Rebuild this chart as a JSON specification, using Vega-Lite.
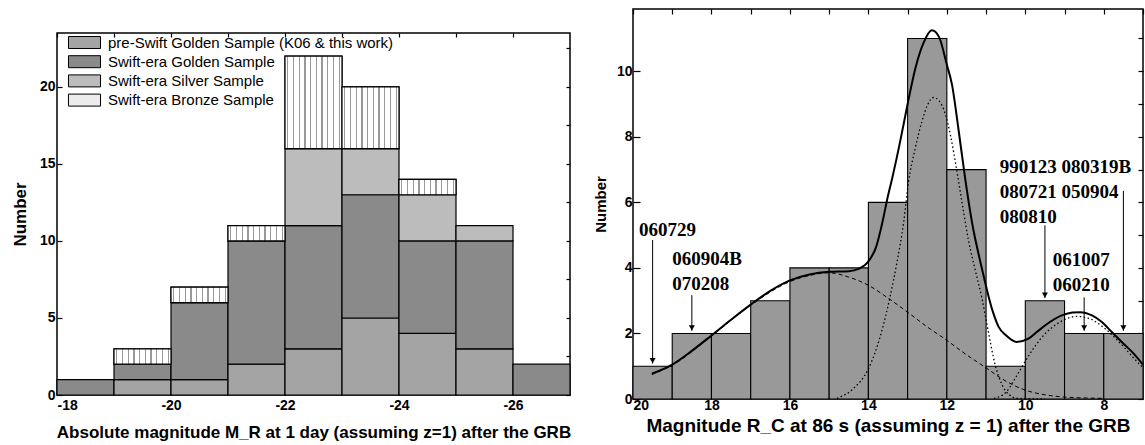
{
  "$schema": "https://vega.github.io/schema/vega-lite/v6.json",
  "padding": {"left": 10, "top": 7, "right": 0, "bottom": 0},
  "spacing": 20,
  "config": {
    "font": "Liberation Sans",
    "view": {"stroke": "black", "strokeWidth": 1.5},
    "axis": {"labelFont": "Liberation Sans", "labelFontWeight": "bold", "labelFontSize": 14, "labelColor": "black", "titleFont": "Liberation Sans", "titleFontWeight": "bold", "titleColor": "black", "domain": false, "grid": false, "tickColor": "black", "tickWidth": 1.2}
  },
  "datasets": {
    "abs": [
      {"lo": -18, "hi": -19, "cat": "Swift-era Golden Sample", "k": 1, "n": 1},
      {"lo": -19, "hi": -20, "cat": "pre-Swift Golden Sample (K06 & this work)", "k": 0, "n": 1},
      {"lo": -19, "hi": -20, "cat": "Swift-era Golden Sample", "k": 1, "n": 1},
      {"lo": -19, "hi": -20, "cat": "Swift-era Bronze Sample", "k": 3, "n": 1},
      {"lo": -20, "hi": -21, "cat": "pre-Swift Golden Sample (K06 & this work)", "k": 0, "n": 1},
      {"lo": -20, "hi": -21, "cat": "Swift-era Golden Sample", "k": 1, "n": 5},
      {"lo": -20, "hi": -21, "cat": "Swift-era Bronze Sample", "k": 3, "n": 1},
      {"lo": -21, "hi": -22, "cat": "pre-Swift Golden Sample (K06 & this work)", "k": 0, "n": 2},
      {"lo": -21, "hi": -22, "cat": "Swift-era Golden Sample", "k": 1, "n": 8},
      {"lo": -21, "hi": -22, "cat": "Swift-era Bronze Sample", "k": 3, "n": 1},
      {"lo": -22, "hi": -23, "cat": "pre-Swift Golden Sample (K06 & this work)", "k": 0, "n": 3},
      {"lo": -22, "hi": -23, "cat": "Swift-era Golden Sample", "k": 1, "n": 8},
      {"lo": -22, "hi": -23, "cat": "Swift-era Silver Sample", "k": 2, "n": 5},
      {"lo": -22, "hi": -23, "cat": "Swift-era Bronze Sample", "k": 3, "n": 6},
      {"lo": -23, "hi": -24, "cat": "pre-Swift Golden Sample (K06 & this work)", "k": 0, "n": 5},
      {"lo": -23, "hi": -24, "cat": "Swift-era Golden Sample", "k": 1, "n": 8},
      {"lo": -23, "hi": -24, "cat": "Swift-era Silver Sample", "k": 2, "n": 3},
      {"lo": -23, "hi": -24, "cat": "Swift-era Bronze Sample", "k": 3, "n": 4},
      {"lo": -24, "hi": -25, "cat": "pre-Swift Golden Sample (K06 & this work)", "k": 0, "n": 4},
      {"lo": -24, "hi": -25, "cat": "Swift-era Golden Sample", "k": 1, "n": 6},
      {"lo": -24, "hi": -25, "cat": "Swift-era Silver Sample", "k": 2, "n": 3},
      {"lo": -24, "hi": -25, "cat": "Swift-era Bronze Sample", "k": 3, "n": 1},
      {"lo": -25, "hi": -26, "cat": "pre-Swift Golden Sample (K06 & this work)", "k": 0, "n": 3},
      {"lo": -25, "hi": -26, "cat": "Swift-era Golden Sample", "k": 1, "n": 7},
      {"lo": -25, "hi": -26, "cat": "Swift-era Silver Sample", "k": 2, "n": 1},
      {"lo": -26, "hi": -27, "cat": "Swift-era Golden Sample", "k": 1, "n": 2}
    ],
    "rc": [
      {"lo": 20, "hi": 19, "n": 1}, {"lo": 19, "hi": 18, "n": 2}, {"lo": 18, "hi": 17, "n": 2},
      {"lo": 17, "hi": 16, "n": 3}, {"lo": 16, "hi": 15, "n": 4}, {"lo": 15, "hi": 14, "n": 4},
      {"lo": 14, "hi": 13, "n": 6}, {"lo": 13, "hi": 12, "n": 11}, {"lo": 12, "hi": 11, "n": 7},
      {"lo": 11, "hi": 10, "n": 1}, {"lo": 10, "hi": 9, "n": 3}, {"lo": 9, "hi": 8, "n": 2},
      {"lo": 8, "hi": 7, "n": 2}
    ],
    "total": [
      {"m": 19.52, "v": 0.77}, {"m": 19.0, "v": 1.05}, {"m": 18.5, "v": 1.47}, {"m": 18.0, "v": 1.94},
      {"m": 17.5, "v": 2.42}, {"m": 17.0, "v": 2.88}, {"m": 16.5, "v": 3.3}, {"m": 16.0, "v": 3.62},
      {"m": 15.5, "v": 3.8}, {"m": 15.0, "v": 3.88}, {"m": 14.5, "v": 3.9}, {"m": 14.25, "v": 3.97},
      {"m": 14.0, "v": 4.2}, {"m": 13.8, "v": 4.65}, {"m": 13.66, "v": 5.3}, {"m": 13.5, "v": 6.2},
      {"m": 13.4, "v": 6.7}, {"m": 13.2, "v": 7.8}, {"m": 13.0, "v": 9.0}, {"m": 12.8, "v": 10.1},
      {"m": 12.6, "v": 10.85}, {"m": 12.38, "v": 11.25}, {"m": 12.2, "v": 11.05}, {"m": 12.0, "v": 10.2},
      {"m": 11.87, "v": 9.6}, {"m": 11.7, "v": 8.2}, {"m": 11.53, "v": 6.7}, {"m": 11.36, "v": 5.4},
      {"m": 11.11, "v": 4.0}, {"m": 10.85, "v": 2.75}, {"m": 10.68, "v": 2.2}, {"m": 10.5, "v": 1.95},
      {"m": 10.22, "v": 1.74}, {"m": 9.92, "v": 1.84}, {"m": 9.7, "v": 2.05}, {"m": 9.49, "v": 2.25},
      {"m": 9.07, "v": 2.55}, {"m": 8.8, "v": 2.64}, {"m": 8.6, "v": 2.65}, {"m": 8.3, "v": 2.55},
      {"m": 8.05, "v": 2.35}, {"m": 7.8, "v": 2.05}, {"m": 7.54, "v": 1.74}, {"m": 7.25, "v": 1.4},
      {"m": 7.0, "v": 1.05}
    ],
    "broad": [
      {"m": 19.52, "v": 0.75}, {"m": 19.0, "v": 1.03}, {"m": 18.0, "v": 1.92}, {"m": 17.0, "v": 2.86},
      {"m": 16.0, "v": 3.58}, {"m": 15.5, "v": 3.77}, {"m": 15.0, "v": 3.85}, {"m": 14.5, "v": 3.72},
      {"m": 14.0, "v": 3.47}, {"m": 13.5, "v": 3.08}, {"m": 13.0, "v": 2.65}, {"m": 12.5, "v": 2.2},
      {"m": 12.0, "v": 1.79}, {"m": 11.5, "v": 1.35}, {"m": 11.0, "v": 0.95}, {"m": 10.6, "v": 0.62},
      {"m": 10.0, "v": 0.27}, {"m": 9.5, "v": 0.13}, {"m": 9.0, "v": 0.06}, {"m": 8.0, "v": 0.02}
    ],
    "narrow": [
      {"m": 14.8, "v": 0.02}, {"m": 14.4, "v": 0.3}, {"m": 14.0, "v": 0.92}, {"m": 13.7, "v": 1.9},
      {"m": 13.44, "v": 3.16}, {"m": 13.27, "v": 4.18}, {"m": 13.1, "v": 5.4}, {"m": 12.98, "v": 6.6},
      {"m": 12.81, "v": 7.63}, {"m": 12.64, "v": 8.45}, {"m": 12.5, "v": 8.95}, {"m": 12.34, "v": 9.2},
      {"m": 12.2, "v": 9.1}, {"m": 12.04, "v": 8.7}, {"m": 11.9, "v": 8.0}, {"m": 11.75, "v": 7.0},
      {"m": 11.6, "v": 5.9}, {"m": 11.45, "v": 4.85}, {"m": 11.28, "v": 3.95}, {"m": 11.11, "v": 3.1},
      {"m": 10.95, "v": 2.1}, {"m": 10.77, "v": 1.05}, {"m": 10.6, "v": 0.45}, {"m": 10.4, "v": 0.12},
      {"m": 10.2, "v": 0.02}, {"m": 9.5, "v": 0.0}
    ],
    "bright": [
      {"m": 10.8, "v": 0.02}, {"m": 10.5, "v": 0.2}, {"m": 10.2, "v": 0.75}, {"m": 9.9, "v": 1.35},
      {"m": 9.6, "v": 1.85}, {"m": 9.3, "v": 2.2}, {"m": 9.0, "v": 2.42}, {"m": 8.7, "v": 2.52},
      {"m": 8.4, "v": 2.47}, {"m": 8.1, "v": 2.27}, {"m": 7.8, "v": 1.97}, {"m": 7.5, "v": 1.6},
      {"m": 7.2, "v": 1.2}, {"m": 7.0, "v": 0.95}
    ],
    "arrows": [
      {"m": 19.5, "top": 4.85, "tip": 1.08},
      {"m": 18.5, "top": 3.17, "tip": 2.08},
      {"m": 9.5, "top": 5.3, "tip": 3.08},
      {"m": 8.5, "top": 3.1, "tip": 2.08},
      {"m": 7.5, "top": 6.35, "tip": 2.08}
    ],
    "notes": [
      {"m": 19.85, "v": 5.15, "t": "060729"},
      {"m": 19.0, "v": 4.28, "t": "060904B"},
      {"m": 19.0, "v": 3.52, "t": "070208"},
      {"m": 10.65, "v": 7.07, "t": "990123 080319B"},
      {"m": 10.65, "v": 6.31, "t": "080721 050904"},
      {"m": 10.65, "v": 5.55, "t": "080810"},
      {"m": 9.3, "v": 4.23, "t": "061007"},
      {"m": 9.3, "v": 3.47, "t": "060210"}
    ]
  },
  "hconcat": [
    {
      "spacing": 0,
      "vconcat": [
        {
          "width": 513,
          "height": 22,
          "view": {"stroke": null},
          "data": {"values": [{"t": ""}]},
          "mark": {"type": "text", "text": ""},
          "encoding": {}
        },
        {
          "width": 513,
          "height": 362,
          "data": {"name": "abs"},
          "transform": [{"stack": "n", "groupby": ["lo"], "sort": [{"field": "k"}], "as": ["y0", "y1"]}],
          "layer": [
            {
              "mark": {"type": "bar", "stroke": "black", "strokeWidth": 1.2, "opacity": 1},
              "encoding": {
                "x": {"field": "lo", "type": "quantitative", "scale": {"domain": [-18, -27], "nice": false, "zero": false},
                      "axis": {"orient": "bottom", "values": [-18, -20, -22, -24, -26], "labelExpr": "'' + datum.value", "tickSize": -5, "labelPadding": 8, "title": "Absolute magnitude M_R at 1 day (assuming z=1) after the GRB", "titleFontSize": 17, "titlePadding": 12}},
                "x2": {"field": "hi"},
                "y": {"field": "y1", "type": "quantitative", "scale": {"domain": [0, 23.5], "nice": false},
                      "axis": {"orient": "left", "values": [0, 5, 10, 15, 20], "tickSize": -5, "labelPadding": 7, "title": "Number", "titleFontSize": 17, "titlePadding": 10}},
                "y2": {"field": "y0"},
                "fill": {"field": "cat", "type": "nominal",
                         "scale": {"domain": ["pre-Swift Golden Sample (K06 & this work)", "Swift-era Golden Sample", "Swift-era Silver Sample", "Swift-era Bronze Sample"],
                                   "range": ["#a4a4a4", "#8a8a8a", "#bcbcbc", "#ececec"]},
                         "legend": {"orient": "none", "legendX": 20, "legendY": 26, "title": null, "padding": 0,
                                    "symbolType": "M-2.67,-1H2.67V1H-2.67Z", "symbolSize": 144, "symbolStrokeColor": "black", "symbolStrokeWidth": 1, "symbolOpacity": 1,
                                    "labelFont": "Liberation Sans", "labelFontSize": 15, "labelColor": "black", "labelOffset": 16, "rowPadding": 2.2, "labelLimit": 400}}
              }
            },
            {
              "transform": [{"filter": "datum.k == 3"}],
              "mark": {"type": "bar", "stroke": "black", "strokeWidth": 1.2,
                       "fill": {"gradient": "linear", "x1": 0, "y1": 0, "x2": 1, "y2": 0, "stops": [
                         {"offset": 0, "color": "#ffffff"},
                         {"offset": 0.04, "color": "#ffffff"}, {"offset": 0.04, "color": "#999999"}, {"offset": 0.06, "color": "#999999"}, {"offset": 0.06, "color": "#ffffff"},
                         {"offset": 0.14, "color": "#ffffff"}, {"offset": 0.14, "color": "#999999"}, {"offset": 0.16, "color": "#999999"}, {"offset": 0.16, "color": "#ffffff"},
                         {"offset": 0.24, "color": "#ffffff"}, {"offset": 0.24, "color": "#999999"}, {"offset": 0.26, "color": "#999999"}, {"offset": 0.26, "color": "#ffffff"},
                         {"offset": 0.34, "color": "#ffffff"}, {"offset": 0.34, "color": "#999999"}, {"offset": 0.36, "color": "#999999"}, {"offset": 0.36, "color": "#ffffff"},
                         {"offset": 0.44, "color": "#ffffff"}, {"offset": 0.44, "color": "#999999"}, {"offset": 0.46, "color": "#999999"}, {"offset": 0.46, "color": "#ffffff"},
                         {"offset": 0.54, "color": "#ffffff"}, {"offset": 0.54, "color": "#999999"}, {"offset": 0.56, "color": "#999999"}, {"offset": 0.56, "color": "#ffffff"},
                         {"offset": 0.64, "color": "#ffffff"}, {"offset": 0.64, "color": "#999999"}, {"offset": 0.66, "color": "#999999"}, {"offset": 0.66, "color": "#ffffff"},
                         {"offset": 0.74, "color": "#ffffff"}, {"offset": 0.74, "color": "#999999"}, {"offset": 0.76, "color": "#999999"}, {"offset": 0.76, "color": "#ffffff"},
                         {"offset": 0.84, "color": "#ffffff"}, {"offset": 0.84, "color": "#999999"}, {"offset": 0.86, "color": "#999999"}, {"offset": 0.86, "color": "#ffffff"},
                         {"offset": 0.94, "color": "#ffffff"}, {"offset": 0.94, "color": "#999999"}, {"offset": 0.96, "color": "#999999"}, {"offset": 0.96, "color": "#ffffff"},
                         {"offset": 1, "color": "#ffffff"}
                       ]}},
              "encoding": {
                "x": {"field": "lo", "type": "quantitative", "scale": {"domain": [-18, -27], "nice": false, "zero": false},
                      "axis": {"orient": "top", "values": [-18, -19, -20, -21, -22, -23, -24, -25, -26], "labels": false, "tickSize": -4, "title": null}},
                "x2": {"field": "hi"},
                "y": {"field": "y1", "type": "quantitative", "scale": {"domain": [0, 23.5], "nice": false},
                      "axis": {"orient": "right", "values": [0, 2.5, 5, 7.5, 10, 12.5, 15, 17.5, 20, 22.5], "labels": false, "tickSize": -4, "title": null}},
                "y2": {"field": "y0"}
              }
            }
          ],
          "resolve": {"axis": {"x": "independent", "y": "independent"}}
        }
      ]
    },
    {
      "width": 510,
      "height": 390,
      "layer": [
        {
          "data": {"name": "rc"},
          "mark": {"type": "bar", "fill": "#999999", "stroke": "black", "strokeWidth": 1.1},
          "encoding": {
            "x": {"field": "lo", "type": "quantitative", "scale": {"domain": [20, 7], "nice": false, "zero": false},
                  "axis": {"orient": "bottom", "values": [20, 18, 16, 14, 12, 10, 8], "tickSize": -6, "labelPadding": 5, "title": "Magnitude R_C at 86 s (assuming z = 1) after the GRB", "titleFontSize": 19, "titlePadding": 4}},
            "x2": {"field": "hi"},
            "y": {"field": "n", "type": "quantitative", "scale": {"domain": [0, 11.9], "nice": false},
                  "axis": {"orient": "left", "values": [0, 2, 4, 6, 8, 10], "tickSize": -7, "labelPadding": 8, "title": "Number", "titleFontSize": 15, "titlePadding": 8}},
            "y2": {"datum": 0}
          }
        },
        {
          "data": {"name": "total"},
          "mark": {"type": "line", "color": "black", "strokeWidth": 2, "interpolate": "monotone"},
          "encoding": {
            "x": {"field": "m", "type": "quantitative", "scale": {"domain": [20, 7], "nice": false, "zero": false},
                  "axis": {"orient": "top", "values": [20, 19, 18, 17, 16, 15, 14, 13, 12, 11, 10, 9, 8, 7], "labels": false, "tickSize": -5, "title": null}},
            "y": {"field": "v", "type": "quantitative", "scale": {"domain": [0, 11.9], "nice": false},
                  "axis": {"orient": "right", "values": [0, 1, 2, 3, 4, 5, 6, 7, 8, 9, 10, 11], "labels": false, "tickSize": -5, "title": null}},
            "order": {"field": "m", "sort": "descending"}
          }
        },
        {
          "data": {"name": "broad"},
          "mark": {"type": "line", "color": "black", "strokeWidth": 1, "strokeDash": [4, 3], "interpolate": "monotone"},
          "encoding": {
            "x": {"field": "m", "type": "quantitative", "scale": {"domain": [20, 7], "nice": false, "zero": false}, "axis": null},
            "y": {"field": "v", "type": "quantitative", "scale": {"domain": [0, 11.9], "nice": false}, "axis": null},
            "order": {"field": "m", "sort": "descending"}
          }
        },
        {
          "data": {"name": "narrow"},
          "mark": {"type": "line", "color": "black", "strokeWidth": 1.3, "strokeDash": [1.5, 2.5], "interpolate": "monotone"},
          "encoding": {
            "x": {"field": "m", "type": "quantitative", "scale": {"domain": [20, 7], "nice": false, "zero": false}, "axis": null},
            "y": {"field": "v", "type": "quantitative", "scale": {"domain": [0, 11.9], "nice": false}, "axis": null},
            "order": {"field": "m", "sort": "descending"}
          }
        },
        {
          "data": {"name": "bright"},
          "mark": {"type": "line", "color": "black", "strokeWidth": 1.3, "strokeDash": [1.5, 2.5], "interpolate": "monotone"},
          "encoding": {
            "x": {"field": "m", "type": "quantitative", "scale": {"domain": [20, 7], "nice": false, "zero": false}, "axis": null},
            "y": {"field": "v", "type": "quantitative", "scale": {"domain": [0, 11.9], "nice": false}, "axis": null},
            "order": {"field": "m", "sort": "descending"}
          }
        },
        {
          "data": {"name": "arrows"},
          "mark": {"type": "rule", "color": "black", "strokeWidth": 1},
          "encoding": {
            "x": {"field": "m", "type": "quantitative", "scale": {"domain": [20, 7], "nice": false, "zero": false}, "axis": null},
            "y": {"field": "top", "type": "quantitative", "scale": {"domain": [0, 11.9], "nice": false}, "axis": null},
            "y2": {"field": "tip"}
          }
        },
        {
          "data": {"name": "arrows"},
          "mark": {"type": "point", "shape": "triangle-down", "filled": true, "color": "black", "size": 36, "opacity": 1, "yOffset": -3},
          "encoding": {
            "x": {"field": "m", "type": "quantitative", "scale": {"domain": [20, 7], "nice": false, "zero": false}, "axis": null},
            "y": {"field": "tip", "type": "quantitative", "scale": {"domain": [0, 11.9], "nice": false}, "axis": null}
          }
        },
        {
          "data": {"name": "notes"},
          "mark": {"type": "text", "font": "Liberation Serif", "fontWeight": "bold", "fontSize": 19, "align": "left", "baseline": "middle", "color": "black"},
          "encoding": {
            "x": {"field": "m", "type": "quantitative", "scale": {"domain": [20, 7], "nice": false, "zero": false}, "axis": null},
            "y": {"field": "v", "type": "quantitative", "scale": {"domain": [0, 11.9], "nice": false}, "axis": null},
            "text": {"field": "t"}
          }
        }
      ],
      "resolve": {"axis": {"x": "independent", "y": "independent"}}
    }
  ]
}
